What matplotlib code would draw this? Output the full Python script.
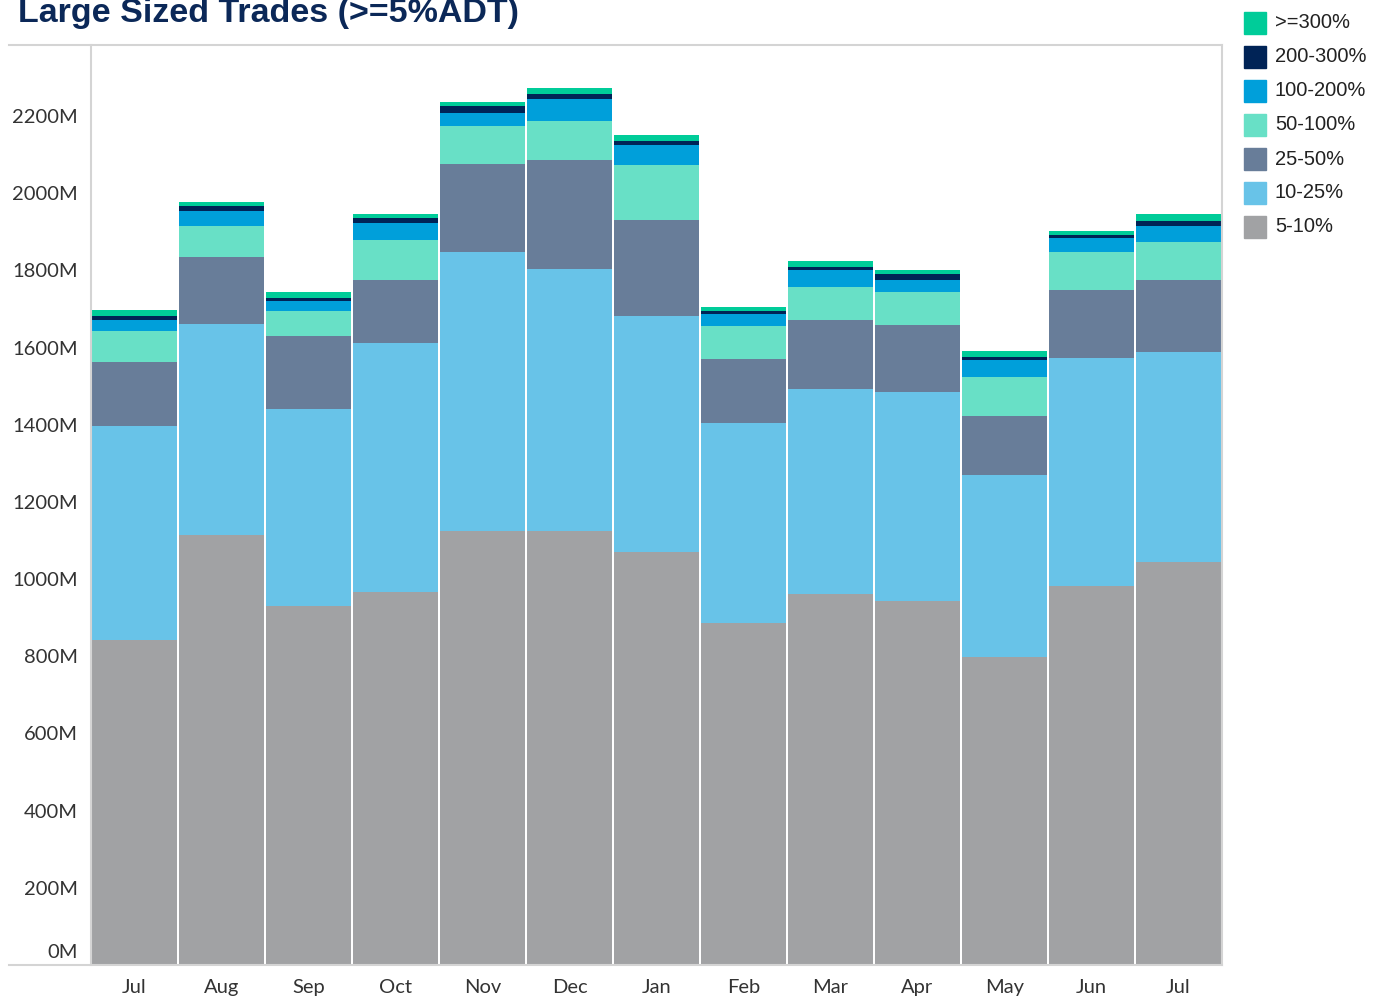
import matplotlib
matplotlib.use("Agg")
import matplotlib.pyplot as plt
import matplotlib.transforms as mtransforms
from matplotlib.patches import Rectangle
from matplotlib.lines import Line2D
import numpy as np

# Monthly large-trade volume (millions), split by trade size as % of ADT
months = ["Jul", "Aug", "Sep", "Oct", "Nov", "Dec", "Jan", "Feb", "Mar", "Apr", "May", "Jun", "Jul"]
pct_5_10 = [842, 1114, 930, 967, 1125, 1125, 1070, 886, 961, 943, 798, 982, 1044]
pct_10_25 = [555, 547, 510, 645, 723, 679, 612, 518, 531, 542, 472, 591, 544]
pct_25_50 = [166, 174, 189, 163, 228, 282, 249, 166, 179, 174, 153, 176, 187]
pct_50_100 = [80, 80, 65, 104, 98, 101, 143, 86, 86, 86, 101, 98, 98]
pct_100_200 = [29, 39, 26, 44, 34, 57, 52, 31, 44, 29, 44, 36, 41]
pct_200_300 = [10, 13, 8, 13, 18, 13, 8, 8, 8, 16, 8, 8, 13]
pct_300_up = [16, 10, 16, 10, 10, 16, 16, 10, 16, 10, 16, 10, 18]

series = [pct_5_10, pct_10_25, pct_25_50, pct_50_100, pct_100_200, pct_200_300, pct_300_up]
labels = ["5-10%", "10-25%", "25-50%", "50-100%", "100-200%", "200-300%", ">=300%"]
colors = ["#a1a2a4", "#68c3e8", "#687d99", "#68e0c6", "#009fda", "#002356", "#00cc99"]

yticks = np.arange(0, 2201, 200)
ytick_labels = ["%dM" % v for v in yticks]

W, H = 1382, 1001
fig = plt.figure(figsize=(W / 100, H / 100), dpi=100)
ax = fig.add_axes([91 / W, 1 - 965 / H, (1222 - 91) / W, (965 - 45) / H])

x = np.arange(len(months))
bottom = np.zeros(len(months))
for vals, lab, col in zip(series, labels, colors):
    ax.bar(x, vals, width=0.975, bottom=bottom, color=col, label=lab, linewidth=0)
    bottom += np.array(vals)

ax.set_xlim(-0.5, len(months) - 0.5)
ax.set_ylim(0, 2384)

tick_font = dict(family="Lato", size=14.5, color="#333333")
ax.set_yticks(yticks)
ax.set_yticklabels(ytick_labels, **tick_font)
ax.set_xticks(x)
ax.set_xticklabels(months, **tick_font)
ax.tick_params(axis="both", length=0)
ax.tick_params(axis="y", pad=9.5)
ax.tick_params(axis="x", pad=10)

# 0M label sits a little above the baseline
lab0 = ax.get_yticklabels()[0]
lab0.set_transform(lab0.get_transform() + mtransforms.ScaledTranslation(0, 14 / 100, fig.dpi_scale_trans))

for s in ["top", "bottom"]:
    ax.spines[s].set_visible(False)
ax.spines["left"].set_color("#d4d4d4")
ax.spines["right"].set_color("#d4d4d4")
ax.spines["left"].set_linewidth(1.5)
ax.spines["right"].set_linewidth(1.5)

# horizontal rules across the whole pane, including the label area
for yy in (45, 965):
    fig.add_artist(Line2D([9 / W, 1222 / W], [1 - yy / H, 1 - yy / H], color="#d4d4d4", lw=1.5))

fig.text(18 / W, 1 - 22 / H, "Large Sized Trades (>=5%ADT)", fontsize=24.5, fontweight="bold",
         family="Liberation Sans", color="#0b2858", va="baseline")

# legend, top entry is the last series
for i, (lab, col) in enumerate(zip(labels[::-1], colors[::-1])):
    yc = 23 + 34 * i
    fig.add_artist(Rectangle((1244 / W, 1 - (yc + 11) / H), 22 / W, 22 / H, color=col,
                             transform=fig.transFigure))
    fig.text(1275 / W, 1 - yc / H, lab, fontsize=14.5, family="Liberation Sans", color="#222222",
             va="center")

plt.savefig("out.png", dpi=100)
